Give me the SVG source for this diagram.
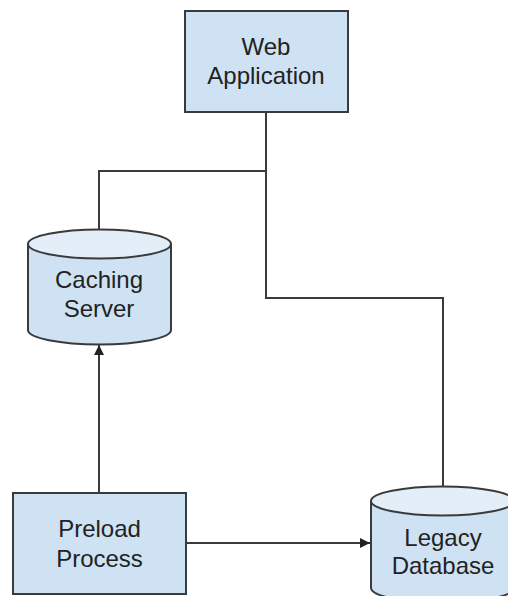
<svg xmlns="http://www.w3.org/2000/svg" width="508" height="596" viewBox="0 0 508 596">
<style>
.box{fill:#cfe2f3;stroke:#3a3a3a;stroke-width:2}
.top{fill:#e3eef9;stroke:#3a3a3a;stroke-width:2}
.lbl{font-family:"Liberation Sans",Arial,sans-serif;font-size:24px;fill:#222;text-anchor:middle}
.conn{fill:none;stroke:#3a3a3a;stroke-width:2}
</style>
<defs>
<marker id="arr" viewBox="0 0 10 10" refX="10" refY="5" markerWidth="5" markerHeight="5" orient="auto" markerUnits="strokeWidth">
<path d="M0,0 L10,5 L0,10 z" fill="#222"/>
</marker>
</defs>
<rect width="508" height="596" fill="#ffffff"/>
<g id="connectors">
<path class="conn" d="M266,112 V171 H99 V230"/>
<path class="conn" d="M266,171 V298 H443 V487"/>
<path class="conn" d="M99,493 V345" marker-end="url(#arr)"/>
<path class="conn" d="M186,543 H370" marker-end="url(#arr)"/>
</g>
<g id="web-application">
<rect class="box" x="185" y="11" width="163" height="101"/>
<text class="lbl" x="266" y="55">Web</text>
<text class="lbl" x="266" y="84">Application</text>
</g>
<g id="caching-server">
<path class="box" d="M28,244 V330 A71.5,14.5 0 0 0 171,330 V244"/>
<ellipse class="top" cx="99.5" cy="244" rx="71.5" ry="14.5"/>
<text class="lbl" x="99" y="288">Caching</text>
<text class="lbl" x="99" y="317">Server</text>
</g>
<g id="preload-process">
<rect class="box" x="13" y="493" width="173" height="101"/>
<text class="lbl" x="99.5" y="537">Preload</text>
<text class="lbl" x="99.5" y="567">Process</text>
</g>
<g id="legacy-database">
<path class="box" d="M371,501 V588 A71.5,14.5 0 0 0 514,588 V501"/>
<ellipse class="top" cx="442.5" cy="501" rx="71.5" ry="14.5"/>
<text class="lbl" x="443" y="546">Legacy</text>
<text class="lbl" x="443" y="574">Database</text>
</g>
</svg>
